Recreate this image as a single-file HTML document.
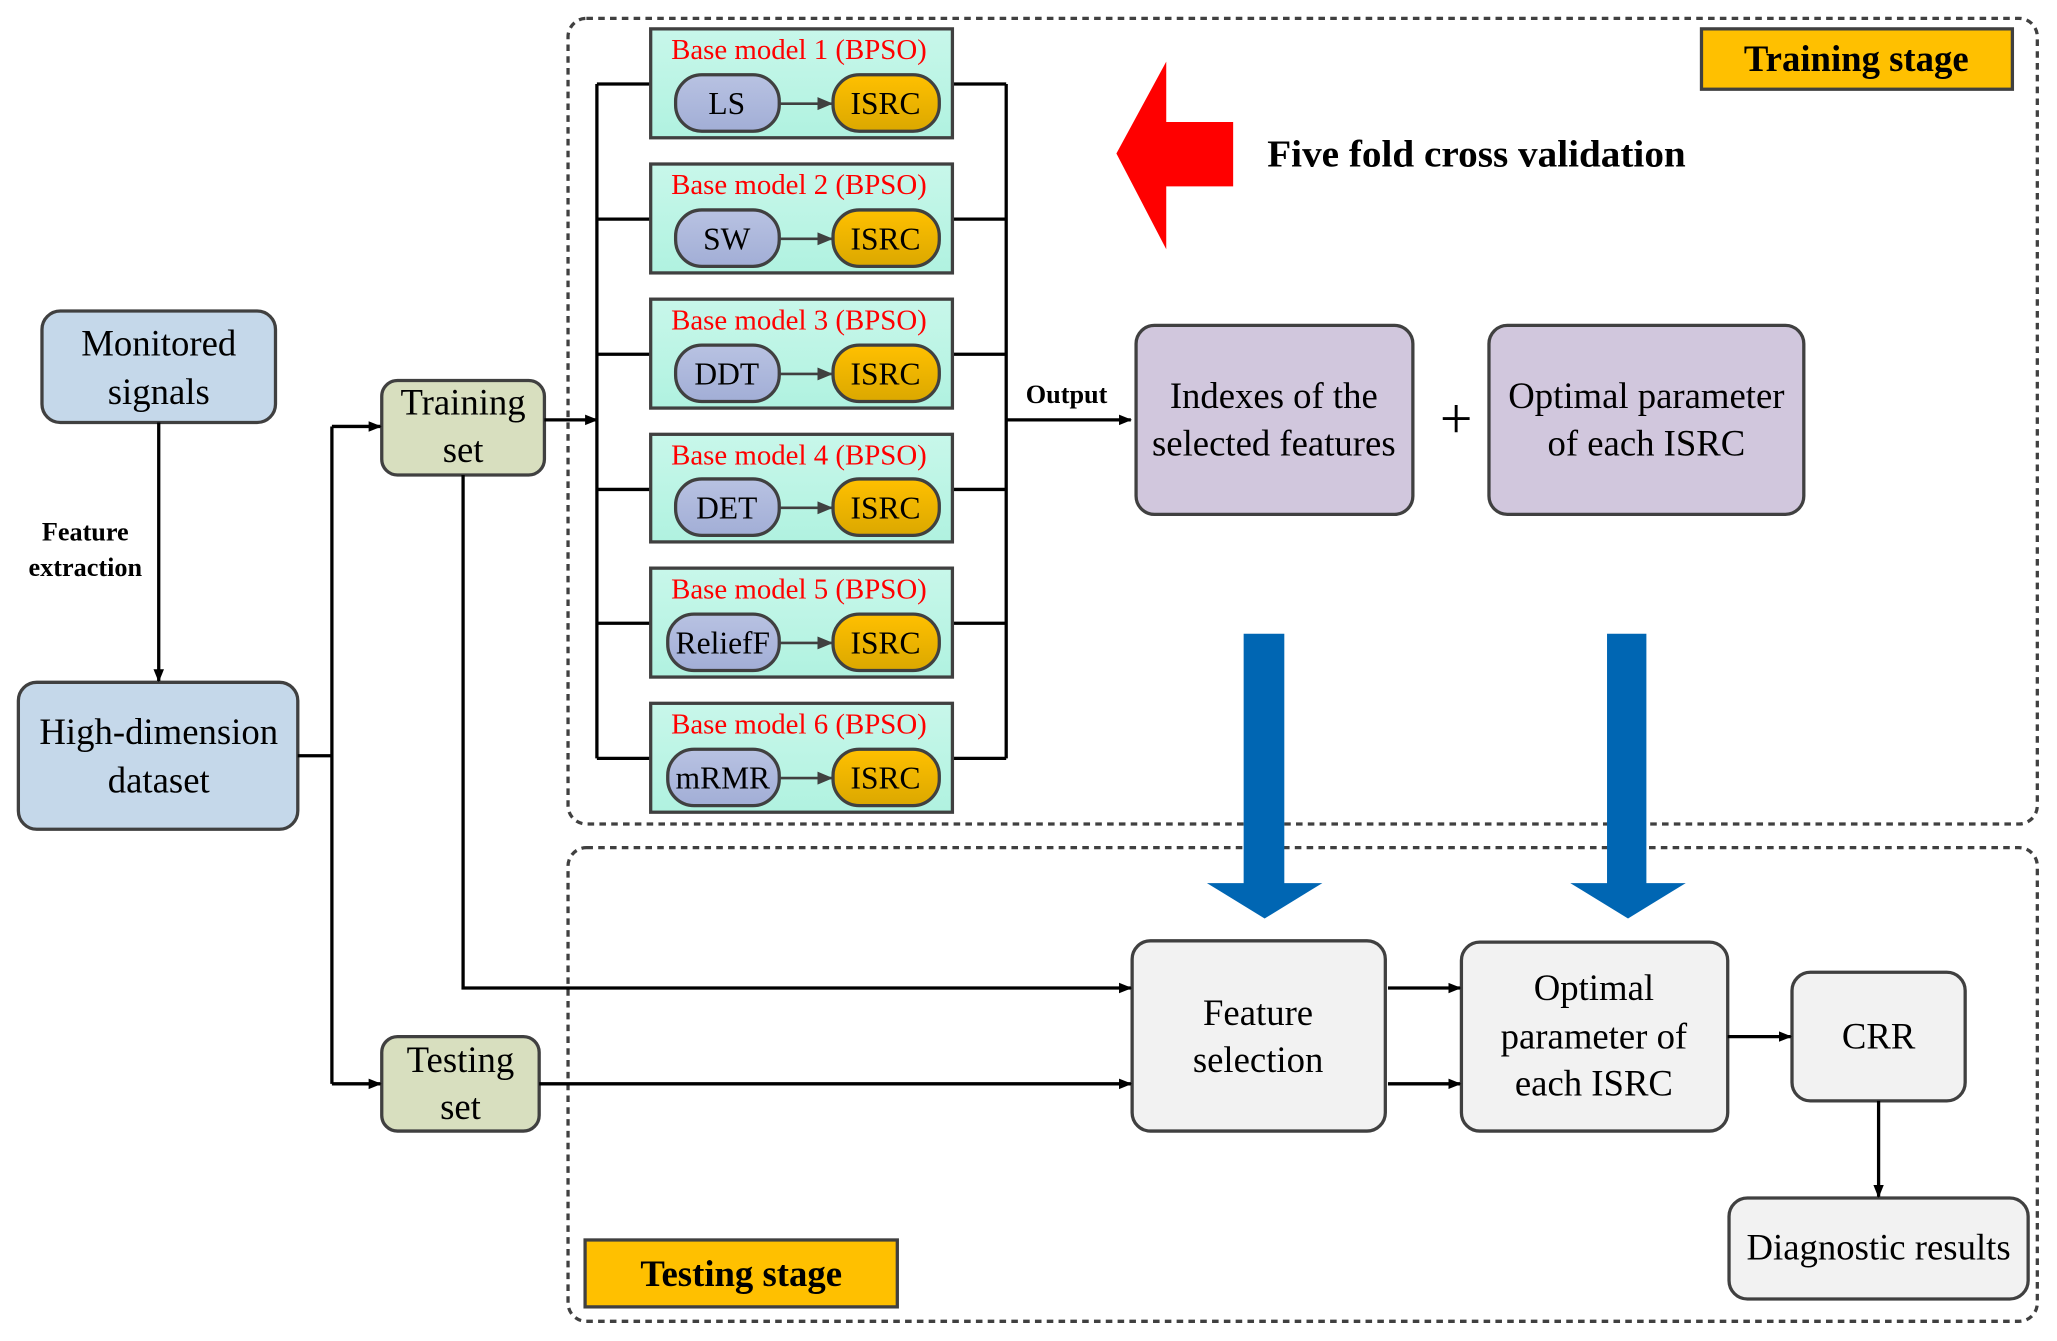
<!DOCTYPE html>
<html><head><meta charset="utf-8"><style>html,body{margin:0;padding:0;background:#fff}svg{display:block}</style></head>
<body>
<svg width="2057" height="1341" viewBox="0 0 1568 1022" preserveAspectRatio="none" xmlns="http://www.w3.org/2000/svg" font-family="'Liberation Serif', serif">
<defs>
<marker id="a" markerWidth="10" markerHeight="10" refX="9" refY="5" orient="auto" markerUnits="userSpaceOnUse"><path d="M0,1 L10,5 L0,9z" fill="#000"/></marker>
<marker id="g" markerWidth="12" markerHeight="12" refX="11" refY="6" orient="auto" markerUnits="userSpaceOnUse"><path d="M0,1 L12,6 L0,11z" fill="#404040"/></marker>
<linearGradient id="teal" x1="0" y1="0" x2="0" y2="1"><stop offset="0" stop-color="#C8F7EA"/><stop offset="1" stop-color="#B0F2E0"/></linearGradient>
<linearGradient id="blu" x1="0" y1="0" x2="0" y2="1"><stop offset="0" stop-color="#B8C2E2"/><stop offset="1" stop-color="#A2AED6"/></linearGradient>
<linearGradient id="org" x1="0" y1="0" x2="0" y2="1"><stop offset="0" stop-color="#FFC000"/><stop offset="1" stop-color="#DBA800"/></linearGradient>
</defs>
<g fill="none" stroke="#404040" stroke-width="2.5" stroke-dasharray="5,4">
<rect x="433" y="14" width="1120" height="614" rx="14"/>
<rect x="433" y="646" width="1120" height="361" rx="14"/>
</g>
<rect x="1297" y="22" width="237" height="46" fill="#FFC000" stroke="#404040" stroke-width="2.5"/>
<text x="1415" y="54" font-size="28" font-weight="bold" text-anchor="middle">Training stage</text>
<rect x="446" y="945" width="238" height="51" fill="#FFC000" stroke="#404040" stroke-width="2.5"/>
<text x="565" y="980" font-size="28" font-weight="bold" text-anchor="middle">Testing stage</text>

<g stroke="#404040" stroke-width="2.5">
<rect x="32" y="237" width="178" height="85" rx="14" fill="#C5D8EA"/>
<rect x="14" y="520" width="213" height="112" rx="14" fill="#C5D8EA"/>
<rect x="291" y="290" width="124" height="72" rx="12" fill="#D8DFBF"/>
<rect x="291" y="790" width="120" height="72" rx="12" fill="#D8DFBF"/>
<rect x="866" y="248" width="211" height="144" rx="14" fill="#D1C7DD"/>
<rect x="1135" y="248" width="240" height="144" rx="14" fill="#D1C7DD"/>
<rect x="863" y="717" width="193" height="145" rx="14" fill="#F2F2F2"/>
<rect x="1114" y="718" width="203" height="144" rx="14" fill="#F2F2F2"/>
<rect x="1366" y="741" width="132" height="98" rx="14" fill="#F2F2F2"/>
<rect x="1318" y="913" width="228" height="77" rx="14" fill="#F2F2F2"/>
</g>
<g font-size="28" text-anchor="middle">
<text x="121" y="271">Monitored</text><text x="121" y="308">signals</text>
<text x="121" y="567">High-dimension</text><text x="121" y="604">dataset</text>
<text x="353" y="316">Training</text><text x="353" y="352">set</text>
<text x="351" y="817">Testing</text><text x="351" y="853">set</text>
<text x="971" y="311">Indexes of the</text><text x="971" y="347">selected features</text>
<text x="1255" y="311">Optimal parameter</text><text x="1255" y="347">of each ISRC</text>
<text x="959" y="781">Feature</text><text x="959" y="817">selection</text>
<text x="1215" y="762">Optimal</text><text x="1215" y="799">parameter of</text><text x="1215" y="835">each ISRC</text>
<text x="1432" y="799">CRR</text>
<text x="1432" y="960">Diagnostic results</text>
</g>
<text x="1110" y="334" font-size="44" text-anchor="middle">+</text>
<g font-size="20" font-weight="bold" text-anchor="middle">
<text x="65" y="412">Feature</text><text x="65" y="439">extraction</text>
<text x="813" y="307">Output</text>
</g>

<g stroke="#000" stroke-width="2.5" fill="none">
<line x1="121" y1="322" x2="121" y2="519" marker-end="url(#a)"/>
<polyline points="227,576 253,576"/>
<line x1="253" y1="325" x2="253" y2="826"/>
<line x1="253" y1="325" x2="290" y2="325" marker-end="url(#a)"/>
<line x1="253" y1="826" x2="290" y2="826" marker-end="url(#a)"/>
<line x1="415" y1="320" x2="455" y2="320" marker-end="url(#a)"/>
<line x1="455" y1="64" x2="455" y2="578"/>
<line x1="767" y1="64" x2="767" y2="578"/>
<line x1="767" y1="320" x2="862" y2="320" marker-end="url(#a)"/>
<polyline points="353,362 353,753 862,753" marker-end="url(#a)"/>
<line x1="411" y1="826" x2="862" y2="826" marker-end="url(#a)"/>
<line x1="1058" y1="753" x2="1113" y2="753" marker-end="url(#a)"/>
<line x1="1058" y1="826" x2="1113" y2="826" marker-end="url(#a)"/>
<line x1="1317" y1="790" x2="1365" y2="790" marker-end="url(#a)"/>
<line x1="1432" y1="839" x2="1432" y2="912" marker-end="url(#a)"/>
</g>

<g stroke="#000" stroke-width="2.5">
<line x1="455" y1="64" x2="496" y2="64"/><line x1="726" y1="64" x2="767" y2="64"/>
<line x1="455" y1="167" x2="496" y2="167"/><line x1="726" y1="167" x2="767" y2="167"/>
<line x1="455" y1="270" x2="496" y2="270"/><line x1="726" y1="270" x2="767" y2="270"/>
<line x1="455" y1="373" x2="496" y2="373"/><line x1="726" y1="373" x2="767" y2="373"/>
<line x1="455" y1="475" x2="496" y2="475"/><line x1="726" y1="475" x2="767" y2="475"/>
<line x1="455" y1="578" x2="496" y2="578"/><line x1="726" y1="578" x2="767" y2="578"/>
</g>
<g font-size="22">
<g transform="translate(0,22)">
<rect x="496" y="0" width="230" height="83" fill="url(#teal)" stroke="#404040" stroke-width="2.5"/>
<text x="609" y="23" fill="#F00" text-anchor="middle">Base model 1 (BPSO)</text>
<rect x="515" y="35" width="79" height="43" rx="20" fill="url(#blu)" stroke="#404040" stroke-width="2.5"/>
<rect x="635" y="35" width="81" height="43" rx="20" fill="url(#org)" stroke="#404040" stroke-width="2.5"/>
<line x1="595" y1="57" x2="634" y2="57" stroke="#404040" stroke-width="2" marker-end="url(#g)"/>
<text x="554" y="65" text-anchor="middle" font-size="24">LS</text><text x="675" y="65" text-anchor="middle" font-size="24">ISRC</text>
</g>
<g transform="translate(0,125)">
<rect x="496" y="0" width="230" height="83" fill="url(#teal)" stroke="#404040" stroke-width="2.5"/>
<text x="609" y="23" fill="#F00" text-anchor="middle">Base model 2 (BPSO)</text>
<rect x="515" y="35" width="79" height="43" rx="20" fill="url(#blu)" stroke="#404040" stroke-width="2.5"/>
<rect x="635" y="35" width="81" height="43" rx="20" fill="url(#org)" stroke="#404040" stroke-width="2.5"/>
<line x1="595" y1="57" x2="634" y2="57" stroke="#404040" stroke-width="2" marker-end="url(#g)"/>
<text x="554" y="65" text-anchor="middle" font-size="24">SW</text><text x="675" y="65" text-anchor="middle" font-size="24">ISRC</text>
</g>
<g transform="translate(0,228)">
<rect x="496" y="0" width="230" height="83" fill="url(#teal)" stroke="#404040" stroke-width="2.5"/>
<text x="609" y="23" fill="#F00" text-anchor="middle">Base model 3 (BPSO)</text>
<rect x="515" y="35" width="79" height="43" rx="20" fill="url(#blu)" stroke="#404040" stroke-width="2.5"/>
<rect x="635" y="35" width="81" height="43" rx="20" fill="url(#org)" stroke="#404040" stroke-width="2.5"/>
<line x1="595" y1="57" x2="634" y2="57" stroke="#404040" stroke-width="2" marker-end="url(#g)"/>
<text x="554" y="65" text-anchor="middle" font-size="24">DDT</text><text x="675" y="65" text-anchor="middle" font-size="24">ISRC</text>
</g>
<g transform="translate(0,331)">
<rect x="496" y="0" width="230" height="82" fill="url(#teal)" stroke="#404040" stroke-width="2.5"/>
<text x="609" y="23" fill="#F00" text-anchor="middle">Base model 4 (BPSO)</text>
<rect x="515" y="34" width="79" height="43" rx="20" fill="url(#blu)" stroke="#404040" stroke-width="2.5"/>
<rect x="635" y="34" width="81" height="43" rx="20" fill="url(#org)" stroke="#404040" stroke-width="2.5"/>
<line x1="595" y1="56" x2="634" y2="56" stroke="#404040" stroke-width="2" marker-end="url(#g)"/>
<text x="554" y="64" text-anchor="middle" font-size="24">DET</text><text x="675" y="64" text-anchor="middle" font-size="24">ISRC</text>
</g>
<g transform="translate(0,433)">
<rect x="496" y="0" width="230" height="83" fill="url(#teal)" stroke="#404040" stroke-width="2.5"/>
<text x="609" y="23" fill="#F00" text-anchor="middle">Base model 5 (BPSO)</text>
<rect x="509" y="35" width="85" height="43" rx="20" fill="url(#blu)" stroke="#404040" stroke-width="2.5"/>
<rect x="635" y="35" width="81" height="43" rx="20" fill="url(#org)" stroke="#404040" stroke-width="2.5"/>
<line x1="595" y1="57" x2="634" y2="57" stroke="#404040" stroke-width="2" marker-end="url(#g)"/>
<text x="551" y="65" text-anchor="middle" font-size="24">ReliefF</text><text x="675" y="65" text-anchor="middle" font-size="24">ISRC</text>
</g>
<g transform="translate(0,536)">
<rect x="496" y="0" width="230" height="83" fill="url(#teal)" stroke="#404040" stroke-width="2.5"/>
<text x="609" y="23" fill="#F00" text-anchor="middle">Base model 6 (BPSO)</text>
<rect x="509" y="35" width="85" height="43" rx="20" fill="url(#blu)" stroke="#404040" stroke-width="2.5"/>
<rect x="635" y="35" width="81" height="43" rx="20" fill="url(#org)" stroke="#404040" stroke-width="2.5"/>
<line x1="595" y1="57" x2="634" y2="57" stroke="#404040" stroke-width="2" marker-end="url(#g)"/>
<text x="551" y="65" text-anchor="middle" font-size="24">mRMR</text><text x="675" y="65" text-anchor="middle" font-size="24">ISRC</text>
</g>
</g>

<polygon points="851,117 889,47 889,93 940,93 940,142 889,142 889,190" fill="#F00"/>
<text x="966" y="127" font-size="29" font-weight="bold" textLength="319" lengthAdjust="spacingAndGlyphs">Five fold cross validation</text>
<polygon points="948,483 979,483 979,673 1008,673 964,700 920,673 948,673" fill="#0066B3"/>
<polygon points="1225,483 1255,483 1255,673 1285,673 1241,700 1197,673 1225,673" fill="#0066B3"/>
</svg>
</body></html>
